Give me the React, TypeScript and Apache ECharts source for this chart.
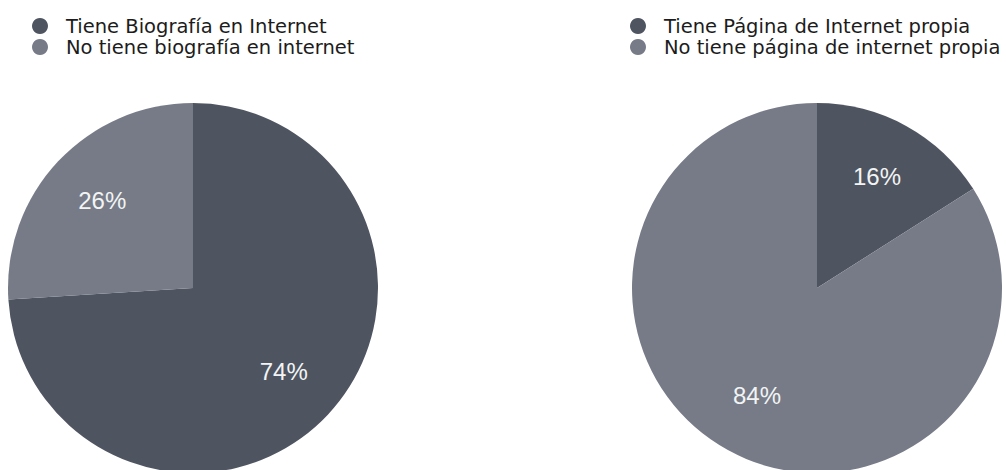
import React, { useEffect, useRef } from "react";
import * as echarts from "echarts";

const bioNames = ["Tiene Biografía en Internet", "No tiene biografía en internet"];
const bioValues = [74, 26];
const webNames = ["Tiene Página de Internet propia", "No tiene página de internet propia"];
const webValues = [16, 84];
const sliceColors = ["#4f5461", "#767b87"];

export default function App() {
  const ref = useRef<HTMLDivElement>(null);
  useEffect(() => {
    document.body.style.margin = "0";
    const chart = echarts.init(ref.current!, null, { renderer: "svg" });
    const mk = (names: string[], values: number[]) =>
      names.map((n, i) => ({ name: n, value: values[i], itemStyle: { color: sliceColors[i] } }));
    const legendBase = {
      orient: "vertical" as const,
      top: 11,
      icon: "circle",
      itemWidth: 42,
      itemHeight: 16,
      itemGap: 1,
      textStyle: { fontFamily: "DejaVu Sans", fontSize: 19.5, color: "#1c1c1c", lineHeight: 16 },
    };
    const pieBase = {
      type: "pie" as const,
      radius: [0, 185],
      startAngle: 90,
      clockwise: true,
      silent: true,
      label: { show: false },
      labelLine: { show: false },
    };
    const labelBase = {
      type: "pie" as const,
      radius: [58, 185],
      startAngle: 90,
      clockwise: true,
      silent: true,
      itemStyle: { color: "rgba(0,0,0,0)" },
      label: {
        show: true,
        position: "inside" as const,
        formatter: "{c}%",
        color: "#f2f4f4",
        fontFamily: "Liberation Sans",
        fontSize: 24,
        offset: [0, -2],
      },
      labelLine: { show: false },
    };
    chart.setOption({
      animation: false,
      legend: [
        {
          ...legendBase,
          left: 27,
          data: bioNames.map((n, i) => ({ name: n, itemStyle: { color: sliceColors[i] } })),
        },
        {
          ...legendBase,
          left: 625,
          data: webNames.map((n, i) => ({ name: n, itemStyle: { color: sliceColors[i] } })),
        },
      ],
      series: [
        { ...pieBase, center: [193, 288], data: mk(bioNames, bioValues) },
        { ...pieBase, center: [817, 288], data: mk(webNames, webValues) },
        {
          ...labelBase,
          center: [193, 288],
          data: bioNames.map((n, i) => ({ name: n, value: bioValues[i] })),
        },
        {
          ...labelBase,
          center: [817, 288],
          data: webNames.map((n, i) => ({ name: n, value: webValues[i] })),
        },
      ],
    });
    return () => chart.dispose();
  }, []);
  return <div ref={ref} style={{ width: 1006, height: 470 }} />;
}
